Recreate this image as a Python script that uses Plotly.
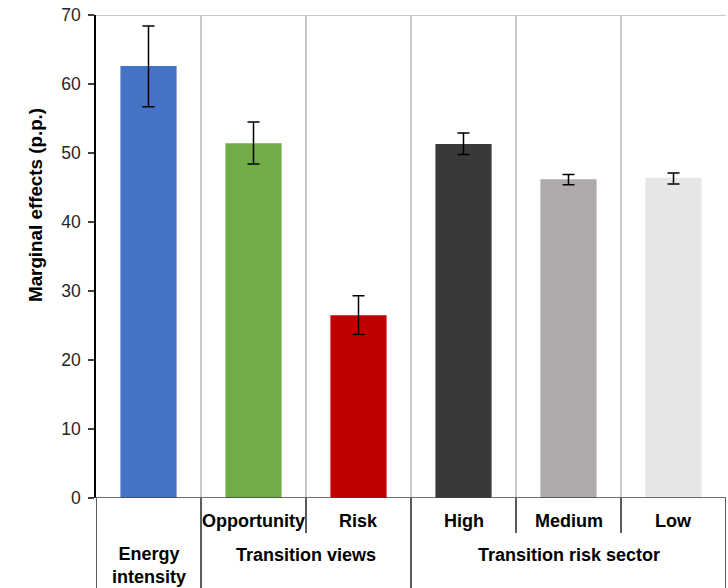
import plotly.graph_objects as go

# Marginal effects by firm characteristic, with confidence intervals
categories = ["Energy intensity", "Opportunity", "Risk", "High", "Medium", "Low"]
values = [62.6, 51.4, 26.5, 51.3, 46.2, 46.4]
upper = [68.4, 54.5, 29.3, 52.9, 46.9, 47.1]
lower = [56.7, 48.4, 23.7, 49.8, 45.4, 45.5]
colors = ["#4472C4", "#70AD47", "#C00000", "#3B3838", "#AEAAAA", "#E7E6E6"]

# Two-level category labels under the axis
level1_labels = ["", "Opportunity", "Risk", "High", "Medium", "Low"]
groups = [("Energy<br>intensity", 0, 0), ("Transition views", 1, 2), ("Transition risk sector", 3, 5)]

y_ticks = [0, 10, 20, 30, 40, 50, 60, 70]
y_title = "Marginal effects (p.p.)"

W, H = 728, 588
L, R, T, B = 96, 2, 15, 90
plot_h = H - T - B
FONT = "Liberation Sans, Arial, sans-serif"


def below(px):
    """Paper y coordinate for a point px pixels under the x axis."""
    return -px / plot_h


x = list(range(len(categories)))
err_plus = [u - v for u, v in zip(upper, values)]
err_minus = [v - l for v, l in zip(values, lower)]

fig = go.Figure()
fig.add_trace(go.Bar(
    x=x, y=values, width=0.535,
    marker=dict(color=colors, line=dict(width=0)),
    error_y=dict(type="data", symmetric=False, array=err_plus, arrayminus=err_minus,
                 color="black", thickness=1.5, width=6),
    hoverinfo="skip",
))

shapes = []
# top border of the plot area
shapes.append(dict(type="line", xref="paper", yref="y", x0=0, x1=1, y0=70, y1=70,
                   line=dict(color="#c8c8c8", width=2)))
# x axis line
shapes.append(dict(type="line", xref="paper", yref="y", x0=-6 / 630, x1=1, y0=0, y1=0,
                   line=dict(color="#404040", width=1.5)))
# separators in the category table below the axis
full_seps = [-0.5, 0.5, 2.5, 5.5]
short_seps = [1.5, 3.5, 4.5]
for s in full_seps:
    shapes.append(dict(type="line", xref="x", yref="paper", x0=s, x1=s, y0=0, y1=below(B),
                       line=dict(color="#262626", width=1.5)))
for s in short_seps:
    shapes.append(dict(type="line", xref="x", yref="paper", x0=s, x1=s, y0=0, y1=below(35),
                       line=dict(color="#262626", width=1.5)))

label_font = dict(family=FONT, size=18, color="black")
annotations = []
for xi, lab in zip(x, level1_labels):
    if lab:
        annotations.append(dict(text=f"<b>{lab}</b>", x=xi, xref="x", y=below(23), yref="paper",
                                showarrow=False, yanchor="middle", xanchor="center", font=label_font))
for lab, a, b in groups:
    cy = 67.5 if "<br>" in lab else 57
    annotations.append(dict(text="<b>" + lab.replace("<br>", "</b><br><b>") + "</b>",
                            x=(a + b) / 2, xref="x", y=below(cy), yref="paper",
                            showarrow=False, yanchor="middle", xanchor="center",
                            font=label_font))
annotations.append(dict(text=f"<b>{y_title}</b>", textangle=-90, x=(35 - L) / 630, xref="paper",
                        y=(H - B - 205) / plot_h, yref="paper", showarrow=False,
                        xanchor="center", yanchor="middle",
                        font=dict(family=FONT, size=18.8, color="black")))

fig.update_layout(
    width=W, height=H,
    margin=dict(l=L, r=R, t=T, b=B, pad=0),
    paper_bgcolor="white", plot_bgcolor="white",
    showlegend=False,
    shapes=shapes,
    annotations=annotations,
    xaxis=dict(range=[-0.5, 5.5], tickmode="array", tickvals=[0.5, 1.5, 2.5, 3.5, 4.5, 5.5],
               showticklabels=False, showgrid=True, gridcolor="#c8c8c8", gridwidth=2,
               zeroline=False, showline=False, ticks="", fixedrange=True),
    yaxis=dict(range=[0, 70], tickmode="array", tickvals=y_ticks, showgrid=False,
               zeroline=False, showline=True, linecolor="black", linewidth=1.5,
               ticks="outside", ticklen=6, tickcolor="#404040", tickwidth=1.5,
               ticklabelstandoff=4,
               tickfont=dict(family=FONT, size=17.5, color="#262626"),
               fixedrange=True),
)

fig.write_html("out.html")
